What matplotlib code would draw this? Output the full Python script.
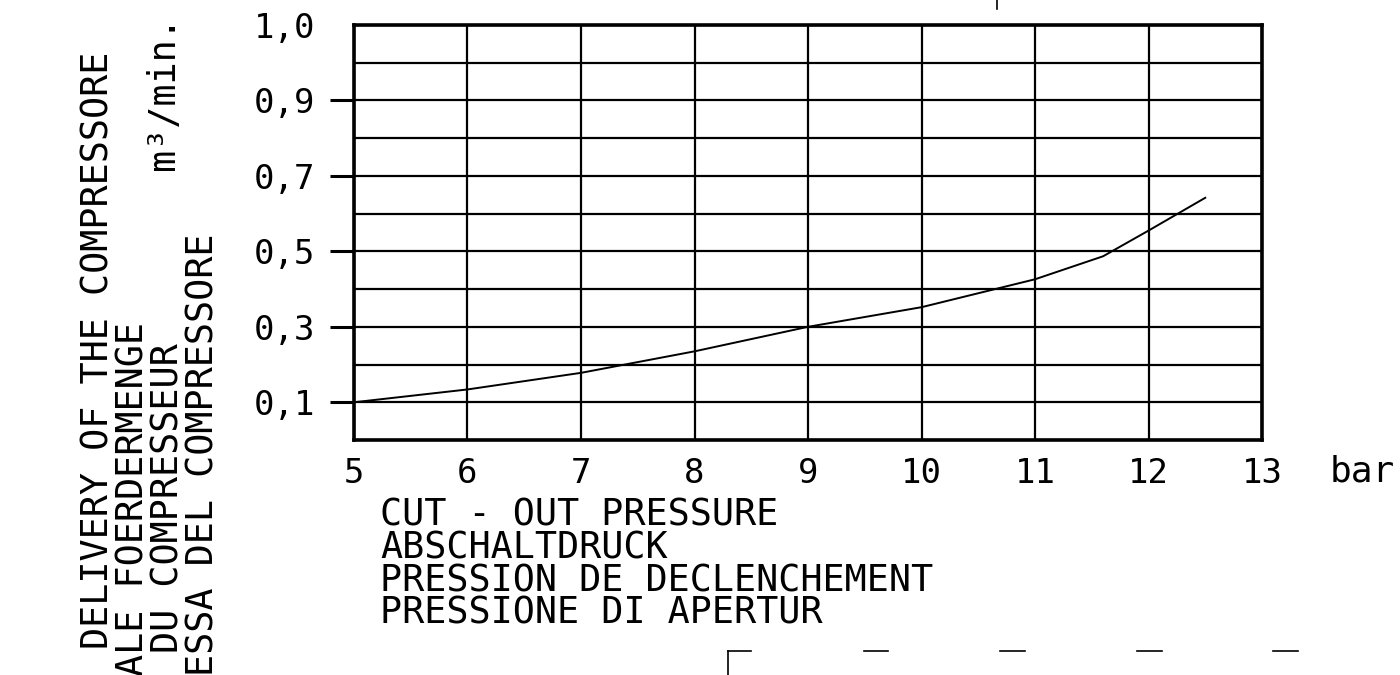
import numpy as np
import matplotlib
matplotlib.use('Agg')
import matplotlib.pyplot as plt
from matplotlib.lines import Line2D

# compressor delivery curve
pressure = [5, 6, 7, 8, 9, 10, 11, 11.6, 12, 12.5]
delivery = [0.10, 0.134, 0.178, 0.235, 0.30, 0.352, 0.426, 0.487, 0.555, 0.642]

x_ticks = [5, 6, 7, 8, 9, 10, 11, 12, 13]
y_ticks = [0.1, 0.3, 0.5, 0.7, 0.9, 1.1]
y_labels = ['0,1', '0,3', '0,5', '0,7', '0,9', '1,0']

y_title = ['DELIVERY OF THE COMPRESSORE',
           'ALE FOERDERMENGE',
           'DU COMPRESSEUR',
           'ESSA DEL COMPRESSORE']
x_title = ['CUT - OUT PRESSURE',
           'ABSCHALTDRUCK',
           'PRESSION DE DECLENCHEMENT',
           'PRESSIONE DI APERTUR']
y_unit = 'm\u00b3/min.'
x_unit = 'bar'

font = 'DejaVu Sans Mono'
plt.rcParams['font.family'] = [font, 'DejaVu Sans']

W, H = 1400, 675
fig = plt.figure(figsize=(W / 100, H / 100), dpi=100)
fig.patch.set_facecolor('white')


def fx(px):
    return px / W


def fy(py):
    return 1 - py / H


ax = fig.add_axes([fx(354), fy(440), (1262 - 354) / W, (440 - 25) / H])
ax.plot(pressure, delivery, color='black', lw=1.4, solid_joinstyle='round')

ax.set_xlim(5, 13)
ax.set_ylim(0, 1.1)
ax.set_xticks(x_ticks)
ax.set_xticklabels([str(v) for v in x_ticks])
ax.set_yticks(y_ticks)
ax.set_yticklabels(y_labels)
ax.set_yticks(np.arange(0, 1.101, 0.1), minor=True)

ax.tick_params(axis='x', length=0, pad=12, labelsize=24.5)
ax.tick_params(axis='y', which='major', length=17, width=2.2, pad=11,
               labelsize=24.5, direction='out')
ax.tick_params(axis='y', which='minor', length=0)
ax.yaxis.get_major_ticks()[-1].tick1line.set_visible(False)

ax.grid(True, which='both', color='black', lw=1.6)
ax.set_axisbelow(True)
for s in ax.spines.values():
    s.set_linewidth(2.6)

# rotated titles on the left, clipped by the bottom edge
y_title_x = [98, 133, 168, 203]
y_title_top = [52, 322, 343, 233]
for t, cx, top in zip(y_title, y_title_x, y_title_top):
    fig.text(fx(cx), fy(top), t, rotation=90, rotation_mode='anchor',
             ha='right', va='center', fontsize=26.5, family=font)
fig.text(fx(164), fy(15), y_unit, rotation=90, rotation_mode='anchor',
         ha='right', va='center', fontsize=26.5, family=font)

# titles under the x axis, one block of four lines (anchor = last baseline)
fig.text(fx(380), fy(624), '\n'.join(x_title), ha='left', va='baseline',
         multialignment='left', linespacing=0.853, fontsize=26.5, family=font)
fig.text(fx(1330), fy(482), x_unit, ha='left', va='baseline', fontsize=26,
         family=font)

# remnants of the drawing frame
frame_bits = [((997, 997), (0, 9)),
              ((728, 728), (651, 675)), ((728, 751), (651, 651)),
              ((864, 888), (651, 651)), ((1000, 1025), (651, 651)),
              ((1137, 1162), (651, 651)), ((1273, 1298), (651, 651))]
for xs, ys in frame_bits:
    fig.add_artist(Line2D([fx(v) for v in xs], [fy(v) for v in ys],
                          color='black', lw=1.2, transform=fig.transFigure))

fig.savefig('out.png', dpi=100, facecolor='white')
